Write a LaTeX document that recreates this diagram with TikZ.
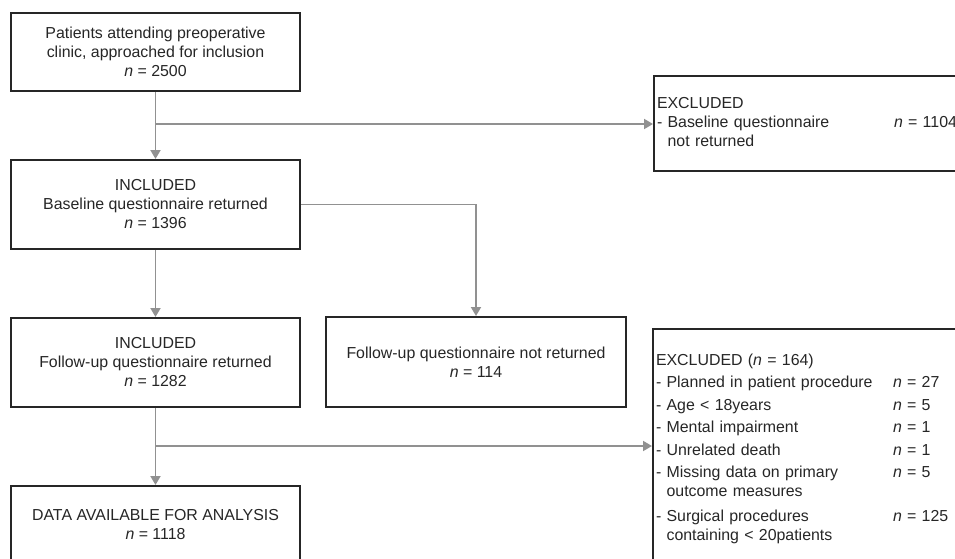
\documentclass[tikz,border=0pt]{standalone}
\usepackage{fontspec}
\setmainfont{Liberation Sans}
\usetikzlibrary{arrows.meta}
\definecolor{linkgray}{RGB}{145,145,145}
\newcommand{\nval}[1]{\textit{n} = #1}
\newcommand{\dashitem}[1]{- \begin{tabular}[t]{@{}l@{}}#1\end{tabular}}
\tikzset{
  flowbox/.style={draw=black!85, line width=2pt, text=black!85, align=center,
    inner sep=0pt, font=\fontsize{15.9}{19}\selectfont},
  exclbox/.style={flowbox, anchor=north west, align=left, inner xsep=3pt,
    text width=334pt, minimum width=340pt},
  link/.style={draw=linkgray, line width=1.9pt, -{Triangle[width=10pt,length=9pt]}}
}
\begin{document}
\begin{tikzpicture}[x=1pt, y=-1pt]
  \useasboundingbox (0,0) rectangle (955,559);
  \clip (0,0) rectangle (955,559);

  % main column
  \node[flowbox, minimum width=289pt, minimum height=78pt] (approached) at (155.5,52)
    {Patients attending preoperative\\clinic, approached for inclusion\\\nval{2500}};
  \node[flowbox, minimum width=289pt, minimum height=89pt] (baseline) at (155.5,204.5)
    {INCLUDED\\Baseline questionnaire returned\\\nval{1396}};
  \node[flowbox, minimum width=289pt, minimum height=89pt] (followup) at (155.5,362.5)
    {INCLUDED\\Follow-up questionnaire returned\\\nval{1282}};
  \node[flowbox, minimum width=289pt, minimum height=78pt] (analysis) at (155.5,525)
    {DATA AVAILABLE FOR ANALYSIS\\\nval{1118}};

  % side boxes
  \node[flowbox, minimum width=300pt, minimum height=90pt] (noreturn) at (476,362)
    {Follow-up questionnaire not returned\\\nval{114}};
  \node[exclbox, minimum height=95pt] (excla) at (653,75)
    {\begin{tabular}{@{}p{237pt}@{}l@{}}
      EXCLUDED & \\
      \dashitem{Baseline questionnaire\\not returned} & \nval{1104}
    \end{tabular}};
  \node[exclbox, minimum height=240pt] (exclb) at (652,328)
    {\begin{tabular}{@{}p{237pt}@{}l@{}}
      EXCLUDED (\nval{164}) & \\[3.5pt]
      - Planned in patient procedure & \nval{27}\\[3.5pt]
      - Age < 18years & \nval{5}\\[3.5pt]
      - Mental impairment & \nval{1}\\[3.5pt]
      - Unrelated death & \nval{1}\\[3.5pt]
      \dashitem{Missing data on primary\\outcome measures} & \nval{5}\\
      \noalign{\vskip 6pt}
      \dashitem{Surgical procedures\\containing < 20patients} & \nval{125}
    \end{tabular}};

  % connectors
  \coordinate (splita) at (155.5,124);
  \coordinate (splitb) at (155.5,446);
  \draw[link] (approached) -- (baseline);
  \draw[link] (splita) -- (splita -| excla.west);
  \draw[link] (baseline) -- (followup);
  \draw[link] (baseline.east) -| (noreturn.north);
  \draw[link] (followup) -- (analysis);
  \draw[link] (splitb) -- (splitb -| exclb.west);
\end{tikzpicture}
\end{document}
